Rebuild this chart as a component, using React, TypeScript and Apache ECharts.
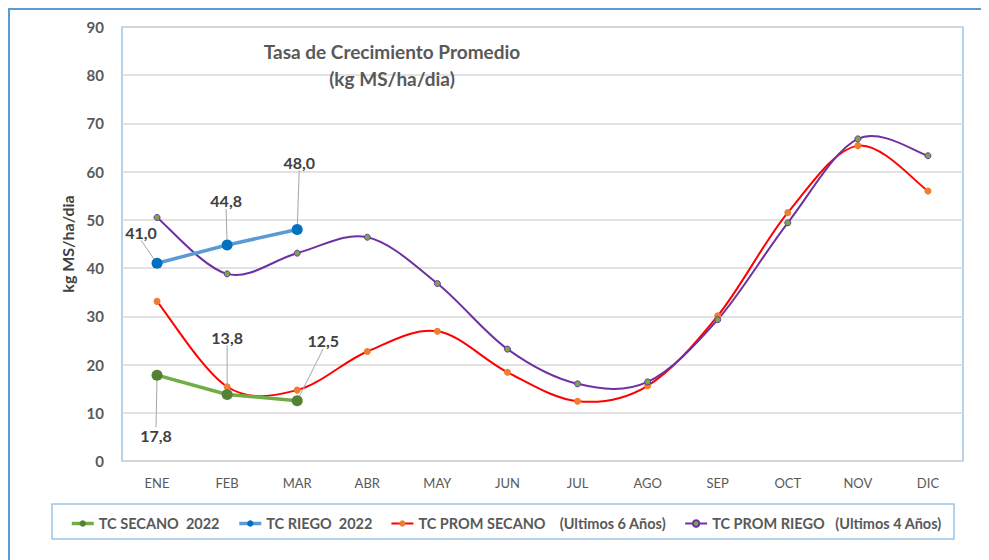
import React, { useEffect, useRef } from "react";
import * as echarts from "echarts";

const months = ["ENE", "FEB", "MAR", "ABR", "MAY", "JUN", "JUL", "AGO", "SEP", "OCT", "NOV", "DIC"];
const secano2022 = [17.8, 13.8, 12.5];
const riego2022 = [41.0, 44.8, 48.0];
const promSecano = [33.1, 15.4, 14.7, 22.7, 26.9, 18.4, 12.4, 15.6, 30.1, 51.5, 65.4, 56.0];
const promRiego = [50.5, 38.8, 43.1, 46.4, 36.8, 23.2, 16.0, 16.4, 29.3, 49.4, 66.8, 63.3];
const yTicks = { min: 0, max: 90, interval: 10 };
const seriesNames = [
  "TC SECANO  2022",
  "TC RIEGO  2022",
  "TC PROM SECANO    (Ultimos 6 Años)",
  "TC PROM RIEGO   (Ultimos 4 Años)",
];
const titleText = "Tasa de Crecimiento Promedio\n(kg MS/ha/dia)";
const yName = "kg MS/ha/dia";

const FONT = "Lato, 'Noto Sans', sans-serif";

const secanoOffsets = [
  { dx: -1, dy: 60 },
  { dx: 0, dy: -57 },
  { dx: 26, dy: -60 },
];
const riegoOffsets = [
  { dx: -16, dy: -31 },
  { dx: -1, dy: -44 },
  { dx: 2, dy: -67 },
];

const fmt = (p: any) => Number(p.value).toFixed(1).replace(".", ",");

// Excel-like smoothed curve (Catmull-Rom through the axis coordinates)
function smoothCurve(values: number[], color: string) {
  return {
    type: "custom",
    data: [[0, values[0]]],
    silent: true,
    z: 2,
    renderItem: (_params: any, api: any) => {
      const pts = values.map((v, i) => api.coord([i, v]));
      let d = `M${pts[0][0]},${pts[0][1]}`;
      for (let i = 0; i < pts.length - 1; i++) {
        const p0 = pts[i - 1] || pts[i];
        const p1 = pts[i];
        const p2 = pts[i + 1];
        const p3 = pts[i + 2] || pts[i + 1];
        const c1x = p1[0] + (p2[0] - p0[0]) / 6;
        const c1y = p1[1] + (p2[1] - p0[1]) / 6;
        const c2x = p2[0] - (p3[0] - p1[0]) / 6;
        const c2y = p2[1] - (p3[1] - p1[1]) / 6;
        d += ` C${c1x},${c1y} ${c2x},${c2y} ${p2[0]},${p2[1]}`;
      }
      return {
        type: "path",
        shape: { pathData: d },
        style: { fill: "none", stroke: color, lineWidth: 2 },
      };
    },
  };
}

export default function App() {
  const ref = useRef<HTMLDivElement>(null);
  useEffect(() => {
    if (!ref.current) return;
    const chart = echarts.init(ref.current, undefined, { renderer: "svg" });
    const dataLabel = {
      show: true,
      position: "inside",
      formatter: fmt,
      fontFamily: FONT,
      fontSize: 16,
      fontWeight: "bold",
      color: "#404040",
      align: "center",
      verticalAlign: "middle",
    };
    const labelLine = { show: true, lineStyle: { color: "#A6A6A6", width: 1 } };
    chart.setOption({
      animation: false,
      textStyle: { fontFamily: FONT },
      title: {
        text: titleText,
        left: 379,
        top: 25,
        textAlign: "center",
        textStyle: { fontFamily: FONT, fontSize: 19, fontWeight: "bold", color: "#595959", lineHeight: 27 },
      },
      graphic: [
        {
          type: "rect",
          shape: { x: 1, y: 1, width: 1200, height: 1200 },
          style: { fill: "none", stroke: "#5B9BD5", lineWidth: 2 },
          silent: true,
          z: -1,
        },
        {
          type: "rect",
          shape: { x: 44, y: 496, width: 902, height: 35 },
          style: { fill: "none", stroke: "#9DC3E6", lineWidth: 1.5 },
          silent: true,
        },
      ],
      legend: {
        left: 62,
        top: 508,
        itemWidth: 22,
        itemHeight: 8,
        itemGap: 18,
        padding: 0,
        lineStyle: { opacity: 1, width: "inherit" },
        textStyle: { fontFamily: FONT, fontSize: 14.5, fontWeight: "bold", color: "#595959" },
        data: seriesNames,
      },
      grid: {
        left: 114,
        right: 26,
        top: 19,
        bottom: 99,
        show: true,
        borderColor: "#9DC3E6",
        borderWidth: 1.5,
      },
      xAxis: {
        type: "category",
        data: months,
        boundaryGap: true,
        axisLine: { show: false },
        axisTick: { show: false },
        axisLabel: { margin: 15, fontFamily: FONT, fontSize: 13, color: "#595959" },
      },
      yAxis: {
        type: "value",
        min: yTicks.min,
        max: yTicks.max,
        interval: yTicks.interval,
        name: yName,
        nameLocation: "middle",
        nameRotate: 90,
        nameGap: 42,
        nameTextStyle: { fontFamily: FONT, fontSize: 16, fontWeight: "bold", color: "#404040" },
        axisLine: { show: false },
        axisTick: { show: false },
        axisLabel: { margin: 18, fontFamily: FONT, fontSize: 15, fontWeight: "bold", color: "#595959" },
        splitLine: { lineStyle: { color: "#D9D9D9", width: 1.5 } },
      },
      series: [
        smoothCurve(promSecano, "#FF0000"),
        smoothCurve(promRiego, "#7030A0"),
        {
          name: seriesNames[2],
          type: "line",
          data: promSecano,
          symbol: "circle",
          symbolSize: 7,
          lineStyle: { color: "#FF0000", width: 2, opacity: 0 },
          itemStyle: { color: "#ED7D31" },
          color: "#FF0000",
          z: 3,
        },
        {
          name: seriesNames[3],
          type: "line",
          data: promRiego,
          symbol: "circle",
          symbolSize: 6,
          lineStyle: { color: "#7030A0", width: 2, opacity: 0 },
          itemStyle: { color: "#70AD47", borderColor: "#7030A0", borderWidth: 1 },
          color: "#7030A0",
          z: 3,
        },
        {
          name: seriesNames[0],
          type: "line",
          data: secano2022,
          symbol: "circle",
          symbolSize: 11,
          lineStyle: { color: "#70AD47", width: 3.5 },
          itemStyle: { color: "#548235" },
          color: "#70AD47",
          label: dataLabel,
          labelLine,
          labelLayout: (p: any) => secanoOffsets[p.dataIndex],
          z: 4,
        },
        {
          name: seriesNames[1],
          type: "line",
          data: riego2022,
          symbol: "circle",
          symbolSize: 11,
          lineStyle: { color: "#5B9BD5", width: 3.5 },
          itemStyle: { color: "#0070C0" },
          color: "#5B9BD5",
          label: dataLabel,
          labelLine,
          labelLayout: (p: any) => riegoOffsets[p.dataIndex],
          z: 4,
        },
      ],
    });
    return () => chart.dispose();
  }, []);
  return <div ref={ref} style={{ width: 981, height: 552 }} />;
}
